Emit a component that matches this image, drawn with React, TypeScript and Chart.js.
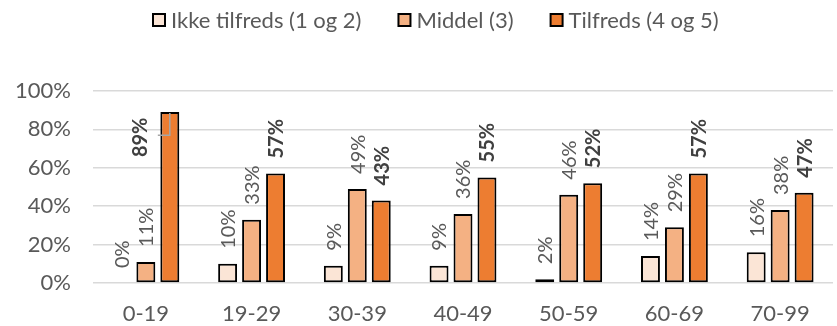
import React, { useEffect, useRef } from "react";
import { Chart, registerables } from "chart.js";

Chart.register(...registerables);

const categories = ["0-19", "19-29", "30-39", "40-49", "50-59", "60-69", "70-99"];
const ikkeTilfreds = [0, 10, 9, 9, 2, 14, 16];
const middel = [11, 33, 49, 36, 46, 29, 38];
const tilfreds = [89, 57, 43, 55, 52, 57, 47];
const seriesNames = ["Ikke tilfreds (1 og 2)", "Middel (3)", "Tilfreds (4 og 5)"];
const seriesColors = ["#FBE5D6", "#F4B183", "#ED7D31"];
const yTicks = [0, 20, 40, 60, 80, 100];

const FONT = "Lato, 'Noto Sans', sans-serif";
const TEXT = "#595959";
const FS = 22;
const LABEL_FS = 20;

const legendPlugin = {
  id: "customLegend",
  afterDraw(chart: any) {
    const ctx = chart.ctx;
    ctx.save();
    ctx.font = `${FS}px ${FONT}`;
    ctx.textBaseline = "middle";
    ctx.textAlign = "left";
    const box = 14;
    const gapBox = 5;
    const gapItem = 36;
    let x = 152;
    const y = 20;
    seriesNames.forEach((name, i) => {
      ctx.fillStyle = "#000";
      ctx.fillRect(x, y - box / 2, box, box);
      ctx.fillStyle = seriesColors[i];
      ctx.fillRect(x + 2, y - box / 2 + 2, box - 4, box - 4);
      ctx.fillStyle = TEXT;
      ctx.fillText(name, x + box + gapBox, y + 1);
      x += box + gapBox + ctx.measureText(name).width + gapItem;
    });
    ctx.restore();
  },
};

const labelPlugin = {
  id: "barLabels",
  afterDatasetsDraw(chart: any) {
    const ctx = chart.ctx;
    const area = chart.chartArea;
    ctx.save();
    chart.data.datasets.forEach((ds: any, di: number) => {
      const meta = chart.getDatasetMeta(di);
      const bold = di === 2;
      ctx.font = `${bold ? "bold " : ""}${LABEL_FS}px ${FONT}`;
      meta.data.forEach((bar: any, i: number) => {
        const text = `${ds.data[i]}%`;
        const w = ctx.measureText(text).width;
        let ox = bar.x;
        let oy = bar.y - 15;
        if (oy - w < area.top) {
          ox = bar.x - 30;
          oy = bar.y + 45;
          const midY = oy - w / 2 - 2;
          ctx.strokeStyle = "#A6A6A6";
          ctx.lineWidth = 1.5;
          ctx.beginPath();
          ctx.moveTo(bar.x - 12, midY);
          ctx.lineTo(bar.x, midY);
          ctx.lineTo(bar.x, bar.y + 1);
          ctx.stroke();
        }
        ctx.save();
        ctx.translate(ox, oy);
        ctx.rotate(-Math.PI / 2);
        ctx.textAlign = "left";
        ctx.textBaseline = "middle";
        ctx.fillStyle = bold ? "#404040" : TEXT;
        ctx.fillText(text, 0, 1);
        ctx.restore();
      });
    });
    ctx.restore();
  },
};

export default function App() {
  const ref = useRef<HTMLCanvasElement>(null);
  useEffect(() => {
    const datasetsData = [ikkeTilfreds, middel, tilfreds];
    const chart = new Chart(ref.current!, {
      type: "bar",
      data: {
        labels: categories,
        datasets: datasetsData.map((d, i) => ({
          label: seriesNames[i],
          data: d,
          backgroundColor: seriesColors[i],
          borderColor: "#000000",
          borderWidth: 2,
          borderSkipped: false,
          categoryPercentage: 0.68,
          barPercentage: 0.79,
        })),
      },
      options: {
        animation: false,
        responsive: false,
        maintainAspectRatio: false,
        layout: { padding: { top: 91, right: 4, bottom: 1, left: 0 } },
        plugins: { legend: { display: false }, tooltip: { enabled: false } },
        scales: {
          x: {
            grid: { display: false, drawTicks: false },
            border: { display: false },
            ticks: { font: { family: FONT, size: FS }, color: TEXT, padding: 18, maxRotation: 0 },
            afterFit(scale: any) {
              scale.height = 42;
            },
          },
          y: {
            min: 0,
            max: 100,
            afterBuildTicks(scale: any) {
              scale.ticks = yTicks.map((v) => ({ value: v }));
            },
            afterFit(scale: any) {
              scale.width = 93;
            },
            grid: { color: "#D9D9D9", lineWidth: 1.5, drawTicks: false },
            border: { display: false },
            ticks: {
              font: { family: FONT, size: FS },
              color: TEXT,
              padding: 22,
              callback: (v: any) => `${v}%`,
            },
          },
        },
      },
      plugins: [legendPlugin, labelPlugin],
    });
    return () => chart.destroy();
  }, []);
  return (
    <div style={{ position: "fixed", left: 0, top: 0, width: 837, height: 326, background: "#fff" }}>
      <canvas ref={ref} width={837} height={326} style={{ width: 837, height: 326 }} />
    </div>
  );
}
